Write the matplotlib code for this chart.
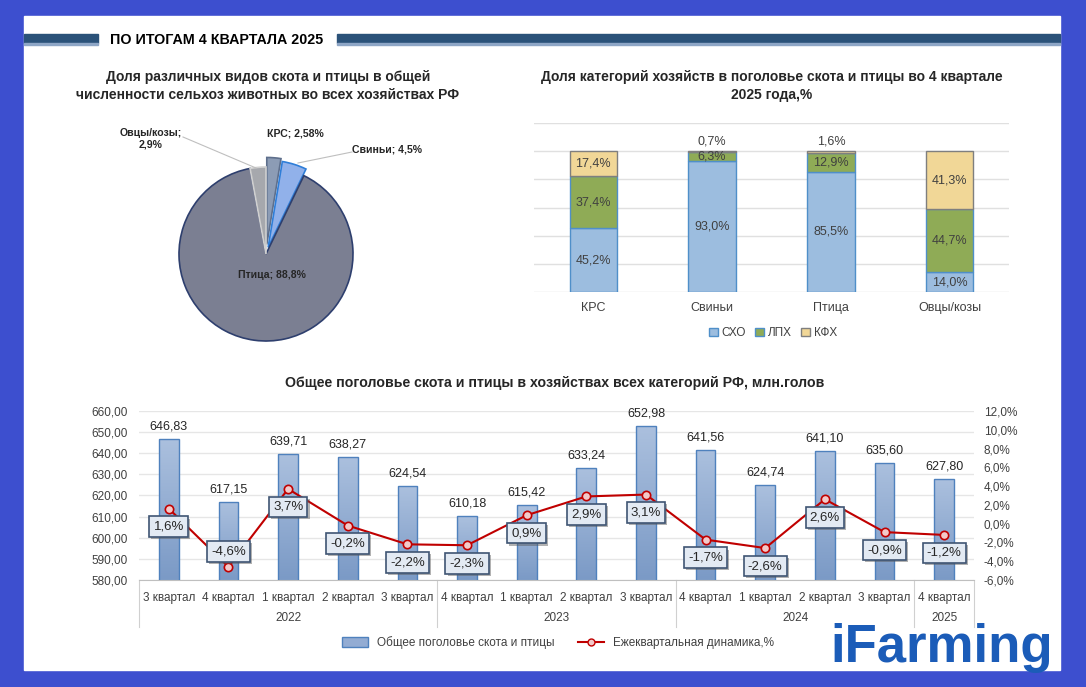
import numpy as np
import matplotlib.pyplot as plt
from matplotlib import font_manager, transforms
from matplotlib.patches import Rectangle, Patch
from matplotlib.lines import Line2D
from matplotlib.colors import LinearSegmentedColormap
from matplotlib.ticker import FuncFormatter
import matplotlib.patheffects as pe

# ---------------------------------------------------------------- data
pie_labels = ['КРС', 'Свиньи', 'Птица', 'Овцы/козы']
pie_values = [2.58, 4.5, 88.8, 2.9]
pie_decimals = [2, 1, 1, 1]

farm_animals = ['КРС', 'Свиньи', 'Птица', 'Овцы/козы']
farm_types = ['СХО', 'ЛПХ', 'КФХ']
sho = [45.2, 93.0, 85.5, 14.0]
lph = [37.4, 6.3, 12.9, 44.7]
kfh = [17.4, 0.7, 1.6, 41.3]

quarters = ['3 квартал', '4 квартал', '1 квартал', '2 квартал', '3 квартал',
            '4 квартал', '1 квартал', '2 квартал', '3 квартал',
            '4 квартал', '1 квартал', '2 квартал', '3 квартал',
            '4 квартал']
years = ['2022', '2023', '2024', '2025']
year_counts = [5, 4, 4, 1]
herd = [646.83, 617.15, 639.71, 638.27, 624.54, 610.18, 615.42, 633.24,
        652.98, 641.56, 624.74, 641.10, 635.60, 627.80]
growth = [1.6, -4.6, 3.7, -0.2, -2.2, -2.3, 0.9, 2.9, 3.1, -1.7, -2.6, 2.6,
          -0.9, -1.2]

# ---------------------------------------------------------------- setup
W, H = 1086, 687
names = {f.name for f in font_manager.fontManager.ttflist}
narrow = 'Liberation Sans Narrow' if 'Liberation Sans Narrow' in names else 'Liberation Sans'
plt.rcParams['font.family'] = ['Liberation Sans', 'DejaVu Sans']
dark = '#262626'
grey_txt = '#404040'


def rect(x0, y0, x1, y1):
    return [x0 / W, 1 - y1 / H, (x1 - x0) / W, (y1 - y0) / H]


def comma(v, d):
    return f'{v:.{d}f}'.replace('.', ',')


fig = plt.figure(figsize=(W / 100, H / 100), dpi=100, facecolor='#3d4fcf')

bg = fig.add_axes([0, 0, 1, 1])
bg.set_xlim(0, W)
bg.set_ylim(H, 0)
bg.axis('off')
bg.add_patch(Rectangle((24, 16), 1036, 654, color='white'))
bg.add_patch(Rectangle((24, 34), 74, 9, color='#2b5279'))
bg.add_patch(Rectangle((24, 43), 74, 2, color='#8ea6c6'))
bg.add_patch(Rectangle((337, 34), 723, 9, color='#2b5279'))
bg.add_patch(Rectangle((337, 43), 723, 2, color='#8ea6c6'))
bg.text(110, 40, 'ПО ИТОГАМ 4 КВАРТАЛА 2025', fontsize=10.3, weight='bold',
        color='black', va='center', ha='left')
bg.text(268, 86, 'Доля различных видов скота и птицы в общей\n'
        'численности сельхоз животных во всех хозяйствах РФ',
        fontsize=10, weight='bold', color=dark, ha='center', va='center',
        linespacing=1.4)
bg.text(772, 86, 'Доля категорий хозяйств в поголовье скота и птицы во 4 квартале\n'
        '2025 года,%', fontsize=10, weight='bold', color=dark, ha='center',
        va='center', linespacing=1.4)
bg.text(555, 383, 'Общее поголовье скота и птицы в хозяйствах всех категорий РФ, млн.голов',
        fontsize=10.2, weight='bold', color=dark, ha='center', va='center')

# ---------------------------------------------------------------- pie
cx, cy, R = 266, 254, 87
pax = fig.add_axes(rect(cx - 150, cy - 150, cx + 150, cy + 150))
pax.patch.set_alpha(0)
pie_colors = ['#8c9cb5', '#91b1ea', '#7b7f92', '#a6a8ad']
pie_edges = ['#5e6f8c', '#2f7ed8', '#2e3f6e', '#d0d0d0']
wedges, _ = pax.pie(pie_values, startangle=90, counterclock=False,
                    explode=[0.11, 0.08, 0, 0], colors=pie_colors)
for w, ec in zip(wedges, pie_edges):
    w.set_edgecolor(ec)
    w.set_linewidth(1.2)
pax.set_xlim(-150 / R, 150 / R)
pax.set_ylim(-150 / R, 150 / R)
pax.set_aspect('equal')


def d(px, py):
    return ((px - cx) / R, (cy - py) / R)


label_pos = [(295, 133), (387, 149), (272, 275), (151, 139)]
for name, v, dec, pos in zip(pie_labels, pie_values, pie_decimals, label_pos):
    sep = ';\n' if '/' in name else '; '
    pax.text(*d(*pos), f'{name}{sep}{comma(v, dec)}%', ha='center', va='center',
             fontsize=7.6, weight='bold', family=narrow, color=dark,
             linespacing=1.15)
pax.plot(*zip(d(183, 137), d(256, 168)), color='#bfbfbf', lw=0.8)
pax.plot(*zip(d(352, 152), d(298, 163)), color='#bfbfbf', lw=0.8)

# ---------------------------------------------------------------- stacked bars
sax = fig.add_axes(rect(534, 123, 1009, 292))
sax.patch.set_alpha(0)
xs = np.arange(len(farm_animals))
bottom = np.zeros(len(farm_animals))
seg_colors = ['#9cbddf', '#8fab56', '#f1d797']
seg_edges = ['#4f8fc9', '#4f8fc9', '#7f7f7f']
for vals, col, ec, name in zip([sho, lph, kfh], seg_colors, seg_edges, farm_types):
    sax.bar(xs, vals, 0.40, bottom=bottom, color=col, edgecolor=ec, lw=1,
            label=name, zorder=3)
    for xi, v, b in zip(xs, vals, bottom):
        ty = b + v / 2 if v >= 3 else 107
        sax.text(xi, ty, f'{comma(v, 1)}%', ha='center', va='center',
                 fontsize=9, color=grey_txt, zorder=4)
    bottom += np.array(vals)
sax.set_xlim(-0.5, 3.5)
sax.set_ylim(0, 120)
sax.set_yticks(np.arange(0, 121, 20))
sax.set_yticklabels([])
sax.grid(axis='y', color='#e0e0e0', lw=1, zorder=0)
for s in sax.spines.values():
    s.set_visible(False)
sax.tick_params(length=0, pad=7)
sax.set_xticks(xs)
sax.set_xticklabels(farm_animals, fontsize=9, color=grey_txt)
sax.legend(loc='center', bbox_to_anchor=(773 / W, 1 - 333 / H),
           bbox_transform=fig.transFigure, ncol=3, frameon=False, fontsize=8.5,
           handlelength=0.75, handleheight=0.75, handletextpad=0.3,
           columnspacing=0.8, labelcolor=grey_txt)

# ---------------------------------------------------------------- herd chart
ax = fig.add_axes(rect(139, 411, 974, 580))
ax.patch.set_alpha(0)
xq = np.arange(len(herd))
bars = ax.bar(xq, herd, 0.33, facecolor='none', edgecolor='#4f81bd', lw=1, zorder=3)
cmap = LinearSegmentedColormap.from_list('bar', ['#7b9ac6', '#abc0de'])
grad = np.linspace(0, 1, 64).reshape(-1, 1)
for b in bars:
    im = ax.imshow(grad, extent=[b.get_x(), b.get_x() + b.get_width(), 580,
                                 b.get_height()],
                   origin='lower', aspect='auto', cmap=cmap, zorder=2.5)
    im.set_clip_path(b)
for xi, v in zip(xq, herd):
    ax.annotate(comma(v, 2), (xi, v), xytext=(0, 9), textcoords='offset points',
                ha='center', va='center', fontsize=9, color=dark)
ax.set_xlim(-0.5, len(herd) - 0.5)
ax.set_ylim(580, 660)
ax.set_yticks(np.arange(580, 661, 10))
ax.yaxis.set_major_formatter(FuncFormatter(lambda v, p: comma(v, 2)))
ax.grid(axis='y', color='#e6e6e6', lw=1, zorder=0)
for s in ['top', 'right', 'left']:
    ax.spines[s].set_visible(False)
ax.spines['bottom'].set_color('#bfbfbf')
ax.set_xticks(xq)
ax.set_xticklabels(quarters, fontsize=8.5, family=narrow, color=grey_txt)
ax.tick_params(axis='x', length=0, pad=9)
ax.tick_params(axis='y', length=0, pad=8, labelsize=8.5, labelcolor=grey_txt)
for lab in ax.get_yticklabels():
    lab.set_family(narrow)

tr = transforms.blended_transform_factory(ax.transData, ax.transAxes)
edges = np.concatenate([[0], np.cumsum(year_counts)]) - 0.5
for e in edges:
    ax.add_line(Line2D([e, e], [0, -0.28], transform=tr, color='#d0d0d0',
                       lw=0.8, clip_on=False))
for y, a, b in zip(years, edges[:-1], edges[1:]):
    ax.text((a + b) / 2, -0.225, y, transform=tr, ha='center', va='center',
            fontsize=8.5, family=narrow, color=grey_txt)

ax2 = ax.twinx()
ax2.set_ylim(-6, 12)
ax2.set_yticks(np.arange(-6, 13, 2))
ax2.yaxis.set_major_formatter(FuncFormatter(lambda v, p: comma(v, 1) + '%'))
ax2.tick_params(axis='y', length=0, pad=7, labelsize=8.5, labelcolor=grey_txt)
for lab in ax2.get_yticklabels():
    lab.set_family(narrow)
for s in ax2.spines.values():
    s.set_visible(False)
ax2.plot(xq, growth, color='#c00000', lw=1.5, marker='o', ms=6,
         mfc='#f3c9c9', mec='#c00000', mew=1.2, zorder=4,
         label='Ежеквартальная динамика,%')
for xi, g in zip(xq, growth):
    dy = 11 if g < -4 else -13
    ann = ax2.annotate(f'{comma(g, 1)}%', (xi, g), xytext=(0, dy),
                       textcoords='offset points', ha='center', va='center',
                       fontsize=9.5, color=dark, zorder=5,
                       bbox=dict(boxstyle='square,pad=0.32', fc='#e3eaf3',
                                 ec='#3f5573', lw=1.2))
    ann.get_bbox_patch().set_path_effects(
        [pe.withSimplePatchShadow(offset=(1.5, -1.5), shadow_rgbFace='#555555',
                                  alpha=0.45)])

handles = [Patch(facecolor='#93acd3', edgecolor='#4f81bd'),
           Line2D([], [], color='#c00000', lw=1.5, marker='o', ms=5,
                  mfc='#f3c9c9', mec='#c00000')]
ax2.legend(handles, ['Общее поголовье скота и птицы', 'Ежеквартальная динамика,%'],
           loc='center', bbox_to_anchor=(558 / W, 1 - 643 / H),
           bbox_transform=fig.transFigure, ncol=2, frameon=False,
           prop={'family': narrow, 'size': 8.5}, handlelength=2.2,
           handleheight=0.9, columnspacing=2.0, labelcolor=grey_txt)

fig.text(830 / W, 1 - 662 / H, 'iFarming', fontsize=38, weight='bold',
         family=narrow, color='#1b5cb8', ha='left', va='baseline')

fig.savefig('out.png', dpi=100)
